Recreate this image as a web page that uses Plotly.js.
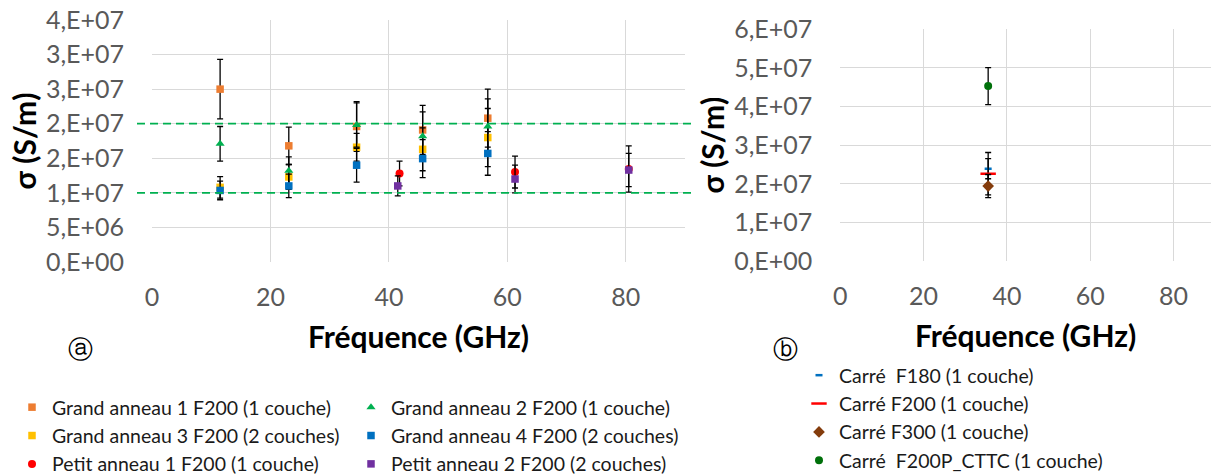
<!DOCTYPE html>
<html>
<head>
<meta charset="utf-8">
<script src="https://cdn.plot.ly/plotly-3.0.1.min.js"></script>
<style>html,body{margin:0;padding:0;background:#fff;}#chart{width:1211px;height:476px;}</style>
</head>
<body>
<div id="chart"></div>
<script>
// ---------- data (panel a) ----------
const freqGrand = [11.5, 23.1, 34.55, 45.7, 56.7];
const ga1 = [25.0e6, 16.8e6, 19.6e6, 19.1e6, 20.8e6];
const ga1Err = [4.3e6, 2.7e6, 3.6e6, 3.55e6, 4.2e6];
const ga2 = [17.1e6, 13.2e6, 19.8e6, 18.2e6, 19.6e6];
const ga2Err = [2.5e6, 2.0e6, 3.2e6, 3.5e6, 4.0e6];
const ga3 = [10.8e6, 12.3e6, 16.6e6, 16.3e6, 18.0e6];
const ga3Err = [1.55e6, 1.8e6, 2.0e6, 3.1e6, 4.2e6];
const ga4 = [10.35e6, 11.0e6, 14.0e6, 14.95e6, 15.7e6];
const ga4Err = [1.35e6, 1.7e6, 2.45e6, 2.75e6, 3.15e6];
const freqPa1 = [41.8, 61.3, 80.5];
const pa1 = [12.8e6, 13.0e6, 13.45e6];
const pa1Err = [1.8e6, 2.3e6, 3.35e6];
const freqPa2 = [41.5, 61.3, 80.5];
const pa2 = [11.0e6, 12.0e6, 13.3e6];
const pa2Err = [1.45e6, 2.0e6, 2.4e6];
const refLevels = [1e7, 2e7];

const namesA = [
  "Grand anneau 1 F200 (1 couche)",
  "Grand anneau 2 F200 (1 couche)",
  "Grand anneau 3 F200 (2 couches)",
  "Grand anneau 4 F200 (2 couches)",
  "Petit anneau 1 F200 (1 couche)",
  "Petit anneau 2 F200 (2 couches)"
];

// ---------- data (panel b) ----------
const freqB = [35.5];
const f180 = [2.39e7], f180Err = [0.26e7];
const f200 = [2.26e7], f200Err = [0.55e7];
const f300 = [1.94e7], f300Err = [0.30e7];
const cttc = [4.53e7], cttcErr = [0.48e7];
const namesB = [
  "Carré\u00a0 F180 (1 couche)",
  "Carré F200 (1 couche)",
  "Carré F300 (1 couche)",
  "Carré\u00a0 F200P_CTTC (1 couche)"
];

// ---------- tick labels ----------
const xTicks = [0, 20, 40, 60, 80];
const yTicksA = [0, 5e6, 1e7, 1.5e7, 2e7, 2.5e7, 3e7, 3.5e7];
const yLabelsA = ["0,E+00", "5,E+06", "1,E+07", "2,E+07", "2,E+07", "3,E+07", "3,E+07", "4,E+07"];
const yTicksB = [0, 1e7, 2e7, 3e7, 4e7, 5e7, 6e7];
const yLabelsB = ["0,E+00", "1,E+07", "2,E+07", "3,E+07", "4,E+07", "5,E+07", "6,E+07"];

const W = 1211, H = 476;
const FONT = "Lato, 'Open Sans', sans-serif";

function eb(arr) {
  return {type: 'data', array: arr, visible: true, color: '#000', thickness: 1.3, width: 3};
}
function mk(x, y, err, name, symbol, color, size, legend, xa, ya) {
  return {
    x: x, y: y, name: name, type: 'scatter', mode: 'markers',
    marker: {symbol: symbol, color: color, size: size},
    error_y: eb(err), legend: legend, xaxis: xa, yaxis: ya, cliponaxis: false
  };
}

const traces = [
  mk(freqGrand, ga1, ga1Err, namesA[0], 'square', '#ED7D31', 7.5, 'legend', 'x', 'y'),
  mk(freqGrand, ga3, ga3Err, namesA[2], 'square', '#FFC000', 7.5, 'legend', 'x', 'y'),
  mk(freqPa1, pa1, pa1Err, namesA[4], 'circle', '#FF0000', 8, 'legend', 'x', 'y'),
  mk(freqGrand, ga2, ga2Err, namesA[1], 'triangle-up', '#00B050', 8, 'legend2', 'x', 'y'),
  mk(freqGrand, ga4, ga4Err, namesA[3], 'square', '#0070C0', 7.5, 'legend2', 'x', 'y'),
  mk(freqPa2, pa2, pa2Err, namesA[5], 'square', '#7030A0', 7.5, 'legend2', 'x', 'y'),
];
const bTraces = [
  {x: freqB, y: f180, name: namesB[0], type: 'scatter', mode: 'markers',
   marker: {symbol: 'line-ew', size: 5, line: {color: '#0070C0', width: 2.5}},
   error_y: eb(f180Err), legend: 'legend3', xaxis: 'x2', yaxis: 'y2'},
  {x: freqB, y: f200, name: namesB[1], type: 'scatter', mode: 'markers',
   marker: {symbol: 'line-ew', size: 11, line: {color: '#FF0000', width: 2.5}},
   error_y: eb(f200Err), legend: 'legend3', xaxis: 'x2', yaxis: 'y2'},
  {x: freqB, y: f300, name: namesB[2], type: 'scatter', mode: 'markers',
   marker: {symbol: 'diamond', size: 9, color: '#843C0C'},
   error_y: eb(f300Err), legend: 'legend3', xaxis: 'x2', yaxis: 'y2'},
  {x: freqB, y: cttc, name: namesB[3], type: 'scatter', mode: 'markers',
   marker: {symbol: 'circle', size: 8, color: '#00700A'},
   error_y: eb(cttcErr), legend: 'legend3', xaxis: 'x2', yaxis: 'y2'}
];

const tickFont = {family: FONT, size: 25, color: '#595959'};
const titleFont = {family: FONT, size: 30, color: '#000', weight: 700};
const yTitleFont = {family: FONT, size: 30, color: '#000', weight: 700};
const grid = '#d9d9d9';

function xax(domain, range) {
  return {
    domain: domain, range: range, tickmode: 'array', tickvals: xTicks,
    showgrid: true, gridcolor: grid, gridwidth: 1, zeroline: false, showline: false,
    ticks: 'outside', ticklen: 13, tickcolor: 'rgba(0,0,0,0)',
    tickfont: tickFont, fixedrange: true, automargin: false,
    title: {text: 'Fréquence (GHz)', font: titleFont, standoff: 16}
  };
}
function yax(domain, range, vals, labels, anchor) {
  return {
    domain: domain, range: range, tickmode: 'array', tickvals: vals, ticktext: labels,
    showgrid: true, gridcolor: grid, gridwidth: 1, zeroline: false, showline: false,
    ticks: 'outside', ticklen: 22, tickcolor: 'rgba(0,0,0,0)',
    tickfont: tickFont, anchor: anchor, fixedrange: true, automargin: false,
    title: {text: 'σ (S/m)', font: yTitleFont, standoff: 0}
  };
}

const legendFont = {family: FONT, size: 19.5, color: '#1a1a1a'};
function leg(xpx, ypx) {
  return {x: xpx / W, y: 1 - ypx / H, xanchor: 'left', yanchor: 'top',
    orientation: 'v', font: legendFont, bgcolor: 'rgba(0,0,0,0)',
    tracegroupgap: 0, itemclick: false, itemdoubleclick: false};
}

const layout = {
  width: W, height: H,
  margin: {l: 0, r: 0, t: 0, b: 0, autoexpand: false},
  paper_bgcolor: '#fff', plot_bgcolor: '#fff',
  showlegend: true,
  xaxis: xax([152 / W, 685 / W], [0, 90]),
  yaxis: yax([1 - 262 / H, 1 - 20 / H], [0, 3.5e7], yTicksA, yLabelsA, 'x'),
  xaxis2: Object.assign(xax([840.3 / W, 1], [0, 89]), {anchor: 'y2'}),
  yaxis2: yax([1 - 261 / H, 1 - 29.3 / H], [0, 6e7], yTicksB, yLabelsB, 'x2'),
  legend: leg(12, 388),
  legend2: leg(351, 388),
  legend3: leg(799, 356),
  shapes: refLevels.map(v => ({
    type: 'line', xref: 'paper', yref: 'y', x0: 137 / W, x1: 692 / W, y0: v, y1: v,
    line: {color: '#00B050', width: 1.8, dash: '8px,5px'}, layer: 'above'
  })),
  annotations: [
    {text: 'ⓐ', xref: 'paper', yref: 'paper', x: 80 / W, y: 1 - 349 / H,
     xanchor: 'center', yanchor: 'middle',
     showarrow: false, font: {family: 'DejaVu Sans', size: 25, color: '#000'}},
    {text: 'ⓑ', xref: 'paper', yref: 'paper', x: 785 / W, y: 1 - 349 / H,
     xanchor: 'center', yanchor: 'middle',
     showarrow: false, font: {family: 'DejaVu Sans', size: 25, color: '#000'}}
  ]
};

Plotly.newPlot('chart', traces.concat(bTraces), layout, {displayModeBar: false, staticPlot: true});
</script>
</body>
</html>
